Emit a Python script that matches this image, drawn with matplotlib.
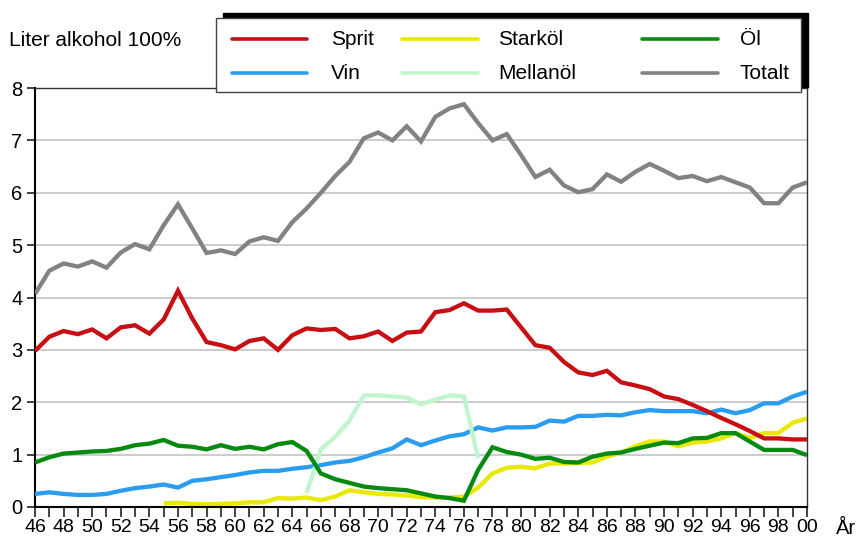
import numpy as np
import matplotlib
matplotlib.use("Agg")
import matplotlib.pyplot as plt
from matplotlib.patches import Rectangle
from matplotlib.lines import Line2D

plt.rcParams['font.family'] = ['Liberation Sans', 'DejaVu Sans']

nan = np.nan
years = np.arange(1946, 2001)

sprit = [2.98, 3.25, 3.36, 3.30, 3.39, 3.22, 3.43, 3.47, 3.31, 3.58, 4.13, 3.60, 3.15, 3.09, 3.01, 3.17, 3.22, 3.00, 3.28,
         3.41, 3.38, 3.40, 3.22, 3.26, 3.35, 3.17, 3.33, 3.35, 3.72, 3.76, 3.89, 3.75, 3.75, 3.77, 3.43, 3.09, 3.04, 2.77,
         2.57, 2.52, 2.60, 2.38, 2.32, 2.25, 2.11, 2.06, 1.95, 1.83, 1.70, 1.58, 1.45, 1.31, 1.31, 1.29, 1.29]

vin = [0.25, 0.28, 0.25, 0.23, 0.23, 0.25, 0.31, 0.36, 0.39, 0.43, 0.37, 0.50, 0.53, 0.57, 0.61, 0.66, 0.69, 0.69, 0.73,
       0.76, 0.80, 0.85, 0.88, 0.95, 1.04, 1.12, 1.29, 1.18, 1.27, 1.35, 1.39, 1.52, 1.46, 1.52, 1.52, 1.53, 1.65, 1.63,
       1.74, 1.74, 1.76, 1.75, 1.81, 1.85, 1.83, 1.83, 1.83, 1.79, 1.86, 1.79, 1.85, 1.98, 1.98, 2.11, 2.20]

ol = [0.85, 0.95, 1.02, 1.04, 1.06, 1.07, 1.11, 1.18, 1.21, 1.28, 1.17, 1.15, 1.10, 1.18, 1.11, 1.15, 1.10, 1.20, 1.24,
      1.07, 0.64, 0.53, 0.46, 0.39, 0.36, 0.34, 0.32, 0.26, 0.20, 0.17, 0.12, 0.71, 1.14, 1.05, 1.00, 0.92, 0.94, 0.86,
      0.85, 0.96, 1.02, 1.04, 1.11, 1.17, 1.23, 1.22, 1.31, 1.32, 1.41, 1.41, 1.25, 1.09, 1.09, 1.09, 0.99]

starkol = [nan] * 9 + [0.07, 0.08, 0.06, 0.05, 0.06, 0.07, 0.09, 0.09, 0.17, 0.16,
                       0.18, 0.13, 0.20, 0.32, 0.28, 0.25, 0.24, 0.22, 0.19, 0.18, 0.18, 0.20, 0.37, 0.64, 0.75, 0.77,
                       0.74, 0.83, 0.83, 0.84, 0.85, 0.96, 1.04, 1.16, 1.25, 1.25, 1.16, 1.23, 1.25, 1.31, 1.41, 1.32,
                       1.41, 1.41, 1.61, 1.69]

mellanol = [nan] * 19 + [0.27, 1.10, 1.34, 1.65, 2.13, 2.13, 2.11, 2.09, 1.96, 2.05, 2.13, 2.11, 0.93] + [nan] * 23

totalt = [4.07, 4.51, 4.65, 4.59, 4.69, 4.57, 4.86, 5.02, 4.92, 5.38, 5.78, 5.32, 4.85, 4.90, 4.83, 5.07, 5.15, 5.08, 5.44,
          5.70, 6.00, 6.32, 6.59, 7.04, 7.15, 7.00, 7.27, 6.98, 7.45, 7.61, 7.69, 7.33, 7.00, 7.12, 6.72, 6.30, 6.44, 6.14,
          6.01, 6.07, 6.35, 6.21, 6.40, 6.55, 6.42, 6.28, 6.32, 6.22, 6.30, 6.20, 6.10, 5.80, 5.80, 6.10, 6.20]

labels = ["Sprit", "Vin", "Starköl", "Mellanöl", "Öl", "Totalt"]
colors = ["#C80F14", "#2A9DF0", "#E8E800", "#C0F5CE", "#078A0F", "#828282"]
series = [sprit, vin, starkol, mellanol, ol, totalt]
zorders = [4, 3, 2, 3, 3, 4]

W, H = 862, 539
fig = plt.figure(figsize=(W / 100, H / 100), dpi=100)
ax = fig.add_axes([35 / W, 1 - 507 / H, (807 - 35) / W, (507 - 88) / H])

for s, c, z in zip(series, colors, zorders):
    ax.plot(years, s, color=c, lw=3.1, zorder=z, solid_joinstyle='miter', solid_capstyle='butt')

ax.set_xlim(1946, 2000)
ax.set_ylim(0, 8)
ax.set_yticks(range(0, 9))
ax.set_xticks(years)
ax.set_xticklabels([f"{y % 100:02d}" if (y - 1946) % 2 == 0 else "" for y in years])
ax.tick_params(axis='x', length=7, width=1.2, pad=2, labelsize=14, color='#222222')
ax.tick_params(axis='y', length=6, width=1.2, pad=3, labelsize=14.5, color='#222222')
ax.grid(axis='y', color='#C8C8C8', lw=1.3, zorder=0)
ax.set_axisbelow(True)
for sp in ['left', 'bottom']:
    ax.spines[sp].set_linewidth(1.5)
    ax.spines[sp].set_color('black')
for sp in ['top', 'right']:
    ax.spines[sp].set_linewidth(1.0)
    ax.spines[sp].set_color('#333333')

def fx(px):
    return px / W

def fy(py):
    return 1 - py / H

fig.text(fx(9), fy(40), "Liter alkohol 100%", fontsize=15, va='center', ha='left')
fig.text(fx(836), fy(529), "År", fontsize=14.5, va='center', ha='left')

# legend with black shadow
fig.add_artist(Rectangle((fx(222.7), fy(87.3)), fx(808.3) - fx(222.7), fy(12.7) - fy(87.3),
                         transform=fig.transFigure, facecolor='black', edgecolor='black', zorder=5))
fig.add_artist(Rectangle((fx(215.7), fy(91.7)), fx(800.7) - fx(215.7), fy(18.3) - fy(91.7),
                         transform=fig.transFigure, facecolor='white', edgecolor='#444444', lw=1.0, zorder=6))
col_line = [(232, 307), (402, 478), (642, 718)]
col_text = [331, 498, 740]
row_y = [39.3, 73.3]
order = [(0, 0), (1, 0), (0, 1), (1, 1), (0, 2), (1, 2)]
for (r, cidx), lab, c in zip(order, labels, colors):
    x0, x1 = col_line[cidx]
    fig.add_artist(Line2D([fx(x0), fx(x1)], [fy(row_y[r]), fy(row_y[r])], transform=fig.transFigure,
                          color=c, lw=2.6, solid_capstyle='round', zorder=7))
    fig.text(fx(col_text[cidx]), fy(row_y[r]), lab, fontsize=15, va='center', ha='left', zorder=8)

fig.savefig("out.png", dpi=100)
